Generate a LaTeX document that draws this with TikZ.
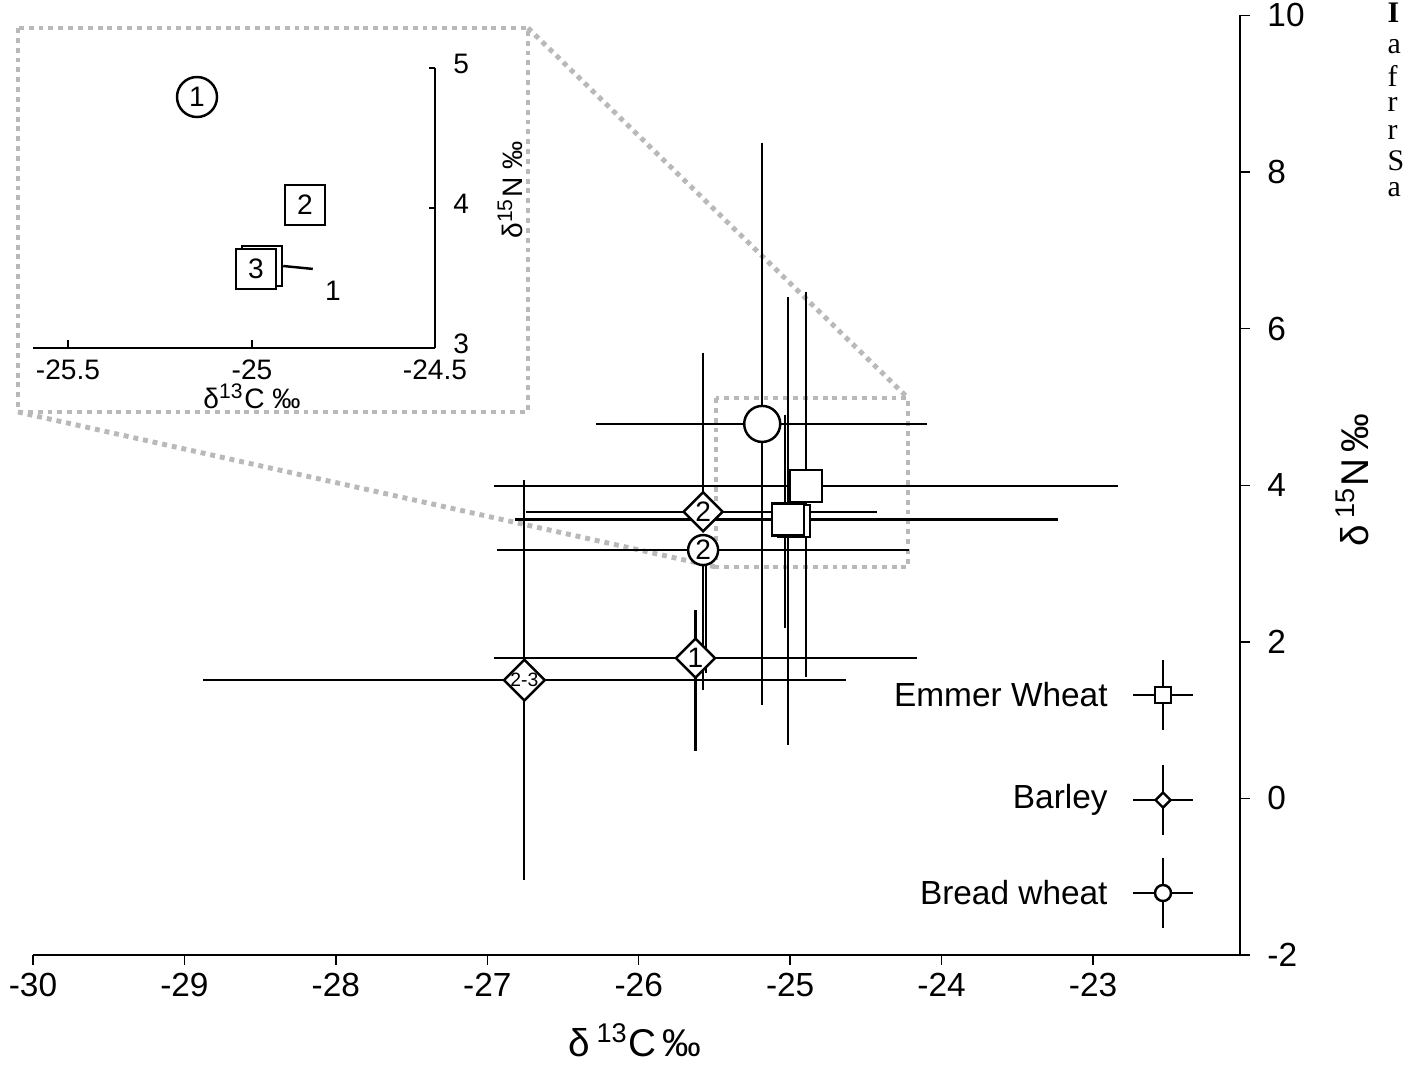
\documentclass[tikz,border=0pt]{standalone}
\usepackage{fontspec}
\setmainfont{Liberation Sans}
\newfontfamily\capfont{Liberation Serif}
\usetikzlibrary{shapes.geometric}
\newcommand{\ebar}[6]{% x y xl xr yl yh
  \draw[bar] (#3,#2) -- (#4,#2);
  \draw[bar] (#1,#5) -- (#1,#6);}
\begin{document}
\begin{tikzpicture}[x=0.01cm,y=-0.01cm,
  bar/.style={line width=0.65pt},
  sqmark/.style={rectangle, draw, fill=white, line width=0.7pt, minimum size=0.31cm, inner sep=0pt},
  dimark/.style={diamond, draw, fill=white, line width=0.7pt, minimum size=0.4cm, inner sep=0pt, font=\fontsize{8}{8}\selectfont},
  cimark/.style={circle, draw, fill=white, line width=0.7pt, minimum size=0.3cm, inner sep=0pt, font=\fontsize{8}{8}\selectfont},
  zoombox/.style={gray!55, line width=1.4pt, dash pattern=on 1.4pt off 1.4pt},
  ticklab/.style={font=\fontsize{9.5}{10}\selectfont},
  inlab/.style={font=\fontsize{8}{9}\selectfont},
]
\useasboundingbox (0,0) rectangle (1425,1084);
%caption edge
\node[anchor=west, inner sep=0pt, font=\capfont\bfseries\fontsize{8.5}{8.5}\selectfont] (cI) at (1387,13) {I};
\foreach \t [count=\i from 0] in {a,f,r,r,S,a}
  \node[anchor=west, inner sep=0pt, font=\capfont\fontsize{8.5}{8.5}\selectfont] (c\i) at (1387,47+28.5*\i) {\t};
%main axes
\draw[line width=0.7pt] (33,955) -- (1240,955);
\draw[line width=0.7pt] (1240,15) -- (1240,955);
\foreach \v [count=\i from 0] in {-30,-29,-28,-27,-26,-25,-24,-23}{
  \draw (33+151.43*\i,955) -- (33+151.43*\i,965);
  \node[ticklab] (xt\i) at (33+151.43*\i,985) {\v};}
\foreach \v [count=\i from 0] in {-2,0,2,4,6,8,10}{
  \draw (1240,955-78.3*2*\i) -- (1250,955-78.3*2*\i);
  \node[ticklab, anchor=west] (yt\i) at (1255,955-78.3*2*\i) {\v};}
\node[font=\fontsize{11}{12}\selectfont] (xlab) at (635,1040) {δ\,\textsuperscript{13}C\,‰};
\node[font=\fontsize{11}{12}\selectfont, rotate=90] (ylab) at (1352,480) {δ\,\textsuperscript{15}N\,‰};
%zoom boxes
\draw[zoombox] (18,28) rectangle (528,412);
\draw[zoombox] (716,398) rectangle (908,567);
\draw[zoombox] (528,28) -- (908,398);
\draw[zoombox] (18,412) -- (716,567);
%data
\begin{scope}[shift={(4575.9,798.4)}, x=1.5143cm, y=0.783cm]
\ebar{-25.17}{4.78}{-26.27}{-24.08}{8.37}{1.19}
\ebar{-24.88}{3.99}{-26.94}{-22.82}{6.47}{1.55}
\ebar{-25.00}{3.56}{-26.80}{-23.22}{6.40}{0.68}
\ebar{-25.02}{3.56}{-25.02}{-25.02}{4.90}{2.18}
\ebar{-25.56}{3.66}{-26.73}{-24.41}{5.69}{3.40}
\ebar{-25.56}{3.17}{-26.92}{-24.20}{3.00}{1.38}
\ebar{-25.54}{3.17}{-25.54}{-25.54}{3.00}{1.60}
\ebar{-25.61}{1.79}{-26.94}{-24.15}{2.40}{0.60}
\ebar{-26.74}{1.51}{-28.86}{-24.62}{4.07}{-1.04}
\node[cimark, minimum size=0.36cm] (bw1) at (-25.17,4.78) {};
\node[sqmark, minimum size=0.32cm] (em2) at (-24.88,3.99) {};
\node[sqmark, minimum size=0.32cm] (em3b) at (-24.96,3.54) {};
\node[sqmark, minimum size=0.32cm] (em3) at (-25.00,3.56) {};
\node[dimark] (ba2) at (-25.56,3.66) {2};
\node[cimark] (bw2) at (-25.56,3.17) {2};
\node[dimark] (ba1) at (-25.61,1.79) {1};
\node[dimark, font=\fontsize{5.5}{6}\selectfont] (ba23) at (-26.74,1.51) {2-3};
\end{scope}
%legend
\foreach \y/\s/\t in {695/sqmark/Emmer Wheat, 800/dimark/Barley, 893/cimark/Bread wheat}{
  \draw[bar] (1133,\y) -- (1193,\y);
  \draw[bar] (1163,\y-35) -- (1163,\y+35);
  \node[\s, minimum size=0.16cm] (lg\y) at (1163,\y) {};
  \node[ticklab, anchor=east] (lt\y) at (1120,\y) {\t};}
%inset
\draw[line width=0.7pt] (33,348) -- (435,348);
\draw[line width=0.7pt] (435,68) -- (435,348);
\foreach \v/\x in {-25.5/68,-25/252,-24.5/435}{
  \draw (\x,348) -- (\x,340);
  \node[inlab] (ix\x) at (\x,370) {\v};}
\foreach \v/\y in {5/68,4/208,3/348}{
  \draw (435,\y) -- (429,\y);
  \node[inlab, anchor=west] (iy\v) at (441,\y-4) {\v};}
\node[inlab] (ixl) at (252,396) {δ\textsuperscript{13}C ‰};
\node[inlab, rotate=90] (iyl) at (510,190) {δ\textsuperscript{15}N ‰};
\node[circle, draw, line width=0.7pt, minimum size=0.4cm, inner sep=0pt, inlab] (in1) at (197,97) {1};
\node[rectangle, draw, line width=0.7pt, minimum size=0.4cm, inner sep=0pt, inlab] (in2) at (305,205) {2};
\node[rectangle, draw, line width=0.7pt, minimum size=0.4cm, inner sep=0pt, fill=white] (in3b) at (262,266) {};
\node[rectangle, draw, line width=0.7pt, minimum size=0.4cm, inner sep=0pt, fill=white, inlab] (in3) at (256,269) {3};
\node[inlab] (inone) at (333,291) {1};
\draw[line width=0.7pt] (in3b.east) -- (inone.north west);
\end{tikzpicture}
\end{document}
